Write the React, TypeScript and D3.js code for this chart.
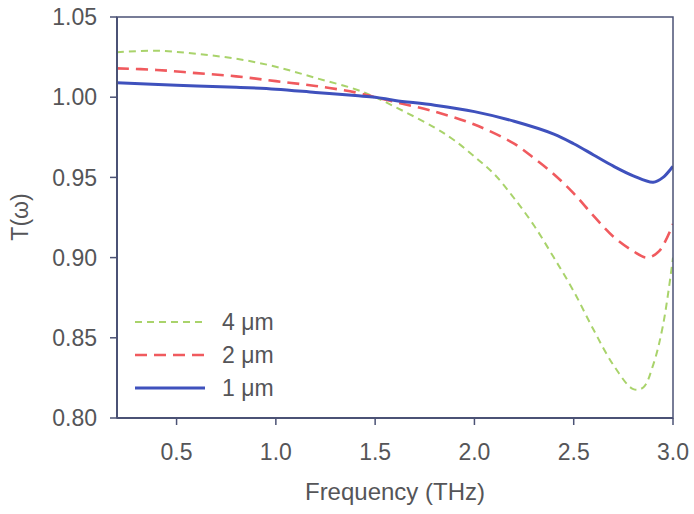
import React from "react";
import * as d3 from "d3";

const xs4 = [0.2, 0.4, 0.6, 0.8, 1.0, 1.2, 1.4, 1.5, 1.6, 1.8, 1.9, 2.0, 2.1, 2.2, 2.3, 2.4, 2.5, 2.6, 2.7, 2.8, 2.85, 2.9, 2.95, 3.0];
const t4 = [1.028, 1.029, 1.027, 1.024, 1.019, 1.012, 1.005, 1.0, 0.994, 0.981, 0.973, 0.963, 0.952, 0.937, 0.92, 0.9, 0.879, 0.855, 0.833, 0.818, 0.819, 0.833, 0.858, 0.9];
const xs2 = [0.2, 0.4, 0.6, 0.8, 1.0, 1.2, 1.4, 1.5, 1.6, 1.8, 2.0, 2.2, 2.3, 2.4, 2.5, 2.6, 2.7, 2.8, 2.87, 2.93, 3.0];
const t2 = [1.018, 1.017, 1.015, 1.013, 1.01, 1.007, 1.003, 1.0, 0.997, 0.991, 0.983, 0.971, 0.962, 0.952, 0.94, 0.926, 0.913, 0.904, 0.9, 0.904, 0.921];
const xs1 = [0.2, 0.5, 0.8, 1.0, 1.2, 1.4, 1.5, 1.6, 1.8, 2.0, 2.2, 2.4, 2.5, 2.6, 2.7, 2.8, 2.9, 2.95, 3.0];
const t1 = [1.009, 1.0075, 1.0062, 1.005, 1.003, 1.001, 1.0, 0.998, 0.995, 0.991, 0.985, 0.977, 0.971, 0.964, 0.957, 0.951, 0.947, 0.95, 0.957];

const xTicks = [0.5, 1.0, 1.5, 2.0, 2.5, 3.0];
const yTicks = [0.8, 0.85, 0.9, 0.95, 1.0, 1.05];

const seriesNames = ["4 \u03bcm", "2 \u03bcm", "1 \u03bcm"];
const colors = ["#a9d36b", "#f05a5e", "#3f51bd"];
const dashes = ["7,5", "12,7", null];
const widths = [2, 2.6, 3];

export default function App() {
  const W = 694, H = 514;
  const L = 117, R = 673, T = 17, B = 418;
  const x = d3.scaleLinear().domain([0.2, 3.0]).range([L, R]);
  const y = d3.scaleLinear().domain([0.8, 1.05]).range([B, T]);
  const line = d3
    .line<[number, number]>()
    .x((d) => x(d[0]))
    .y((d) => y(d[1]))
    .curve(d3.curveCatmullRom.alpha(0.5));
  const data = [
    xs4.map((v, i) => [v, t4[i]] as [number, number]),
    xs2.map((v, i) => [v, t2[i]] as [number, number]),
    xs1.map((v, i) => [v, t1[i]] as [number, number]),
  ];
  const axisColor = "#4b5275";
  const textColor = "#555558";
  const font = "Liberation Sans, Arial, sans-serif";
  return (
    <svg width={W} height={H} style={{ position: "absolute", left: 0, top: 0 }}>
      <rect x={0} y={0} width={W} height={H} fill="#fff" />
      <defs>
        <clipPath id="clip">
          <rect x={L} y={T} width={R - L} height={B - T} />
        </clipPath>
      </defs>
      <g clipPath="url(#clip)">
        {data.map((d, i) => (
          <path
            key={i}
            d={line(d) || ""}
            fill="none"
            stroke={colors[i]}
            strokeWidth={widths[i]}
            strokeDasharray={dashes[i] || undefined}
          />
        ))}
      </g>
      <rect x={L} y={T} width={R - L} height={B - T} fill="none" stroke={axisColor} strokeWidth={1.5} />
      <line x1={L} x2={L} y1={T} y2={B} stroke={axisColor} strokeWidth={2} />
      <line x1={L} x2={R} y1={B} y2={B} stroke={axisColor} strokeWidth={2} />
      {yTicks.map((t) => (
        <g key={"y" + t}>
          <line x1={L - 7} x2={L} y1={y(t)} y2={y(t)} stroke={axisColor} strokeWidth={1.5} />
          <text x={L - 20} y={y(t)} dy="0.36em" textAnchor="end" fontSize={23} fill={textColor} fontFamily={font}>
            {t.toFixed(2)}
          </text>
        </g>
      ))}
      {xTicks.map((t) => (
        <g key={"x" + t}>
          <line x1={x(t)} x2={x(t)} y1={B} y2={B + 7} stroke={axisColor} strokeWidth={1.5} />
          <text x={x(t)} y={460} textAnchor="middle" fontSize={23} fill={textColor} fontFamily={font}>
            {t.toFixed(1)}
          </text>
        </g>
      ))}
      <text x={395} y={500} textAnchor="middle" fontSize={24} fill={textColor} fontFamily={font}>
        Frequency (THz)
      </text>
      <text
        transform={`translate(28,217) rotate(-90)`}
        textAnchor="middle"
        fontSize={23}
        fill={textColor}
        fontFamily={font}
      >
        T(ω)
      </text>
      {seriesNames.map((n, i) => {
        const ly = 322 + i * 33;
        return (
          <g key={n}>
            <line
              x1={135}
              x2={205}
              y1={ly}
              y2={ly}
              stroke={colors[i]}
              strokeWidth={widths[i]}
              strokeDasharray={dashes[i] || undefined}
            />
            <text x={222} y={ly} dy="0.36em" fontSize={23} fill={textColor} fontFamily={font}>
              {n}
            </text>
          </g>
        );
      })}
    </svg>
  );
}
